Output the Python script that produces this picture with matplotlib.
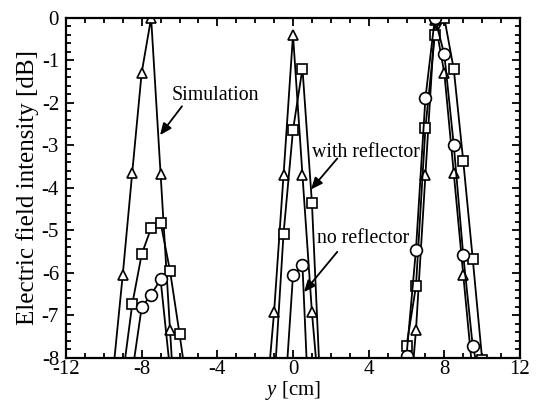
import numpy as np
import matplotlib
matplotlib.use("Agg")
import matplotlib.pyplot as plt
from matplotlib.ticker import MultipleLocator

plt.rcParams['font.family'] = ['Liberation Serif', 'DejaVu Serif']
plt.rcParams['mathtext.fontset'] = 'custom'
plt.rcParams['mathtext.it'] = 'Liberation Serif:italic'
plt.rcParams['mathtext.rm'] = 'Liberation Serif'

# ---- data (y position [cm], intensity [dB]) ----
sim_left_x = [-9.5, -9.0, -8.5, -8.0, -7.5, -7.0, -6.5, -6.0]
sim_left_y = [-8.3, -6.05, -3.65, -1.29, 0.0, -3.67, -7.36, -11.0]
sim_mid_x = [-1.5, -1.0, -0.5, 0.0, 0.5, 1.0, 1.5]
sim_mid_y = [-9.5, -6.93, -3.70, -0.40, -3.70, -6.93, -9.5]
sim_right_x = [6.0, 6.5, 7.0, 7.5, 8.0, 8.5, 9.0, 9.5]
sim_right_y = [-10.0, -7.36, -3.70, -0.05, -1.30, -3.66, -6.05, -8.4]

wr_left_x = [-9.0, -8.5, -8.0, -7.5, -7.0, -6.5, -6.0, -5.5]
wr_left_y = [-8.45, -6.75, -5.57, -4.95, -4.82, -5.96, -7.44, -9.0]
wr_mid_x = [-1.0, -0.5, 0.0, 0.5, 1.0, 1.5]
wr_mid_y = [-8.7, -5.08, -2.64, -1.19, -4.35, -9.3]
wr_right_x = [5.5, 6.0, 6.5, 7.0, 7.5, 8.0, 8.5, 9.0, 9.5, 10.0]
wr_right_y = [-10.4, -7.73, -6.32, -2.59, -0.40, 0.0, -1.21, -3.37, -5.67, -8.05]

nr_left_x = [-8.5, -8.0, -7.5, -7.0, -6.5]
nr_left_y = [-8.36, -6.82, -6.52, -6.16, -8.3]
nr_mid_x = [-0.5, 0.0, 0.5, 1.0]
nr_mid_y = [-9.4, -6.06, -5.83, -10.9]
nr_right_x = [5.5, 6.0, 6.5, 7.0, 7.5, 8.0, 8.5, 9.0, 9.5, 10.0]
nr_right_y = [-10.0, -7.96, -5.46, -1.89, 0.0, -0.86, -3.0, -5.59, -7.73, -8.7]

x_ticks = [-12, -8, -4, 0, 4, 8, 12]
y_ticks = [0, -1, -2, -3, -4, -5, -6, -7, -8]

fig = plt.figure(figsize=(5.38, 4.11), dpi=100)
ax = fig.add_axes([66/538, 1-357.5/411, (520-66)/538, (357.5-18)/411])

lw = 1.3
common = dict(color='black', lw=lw, mfc='white', mec='black', mew=1.2, clip_on=True)
for xs, ys in [(sim_left_x, sim_left_y), (sim_mid_x, sim_mid_y), (sim_right_x, sim_right_y)]:
    ax.plot(xs, ys, marker='^', ms=7.5, **common)
for xs, ys in [(wr_left_x, wr_left_y), (wr_mid_x, wr_mid_y), (wr_right_x, wr_right_y)]:
    ax.plot(xs, ys, marker='s', ms=6.5, **common)
for xs, ys in [(nr_left_x, nr_left_y), (nr_mid_x, nr_mid_y), (nr_right_x, nr_right_y)]:
    ax.plot(xs, ys, marker='o', ms=8.5, **common)

ax.set_xlim(-12, 12)
ax.set_ylim(-8, 0)
ax.set_xticks(x_ticks)
ax.set_xticklabels([str(v) for v in x_ticks])
ax.set_yticks(y_ticks)
ax.set_yticklabels([str(v) for v in y_ticks])
ax.xaxis.set_minor_locator(MultipleLocator(1))
ax.yaxis.set_minor_locator(MultipleLocator(0.2))
ax.tick_params(which='both', direction='in', top=True, right=True, width=1.3, labelsize=15, colors='black')
ax.tick_params(which='major', length=6)
ax.tick_params(axis='x', which='major', pad=2)
ax.tick_params(axis='y', which='major', pad=5)
ax.tick_params(which='minor', length=3.5)
for s in ax.spines.values():
    s.set_linewidth(1.6)

ax.set_xlabel(r'$y$ [cm]', fontsize=15, labelpad=0)
ax.set_ylabel('Electric field intensity [dB]', fontsize=18, labelpad=2)

arrow = dict(arrowstyle='-|>,head_length=0.7,head_width=0.3', color='black', lw=1.3, shrinkA=0, shrinkB=0)
ax.annotate('', xy=(-7.03, -2.76), xytext=(-5.87, -2.08), arrowprops=arrow)
ax.annotate('', xy=(0.95, -4.04), xytext=(2.34, -3.31), arrowprops=arrow)
ax.annotate('', xy=(0.58, -6.46), xytext=(2.34, -5.51), arrowprops=arrow)
ax.text(-6.41, -1.82, 'Simulation', fontsize=14.3, ha='left', va='center')
ax.text(0.99, -3.18, 'with reflector', fontsize=14.3, ha='left', va='center')
ax.text(1.28, -5.19, 'no reflector', fontsize=14.3, ha='left', va='center')

fig.savefig('out.png', dpi=100)
